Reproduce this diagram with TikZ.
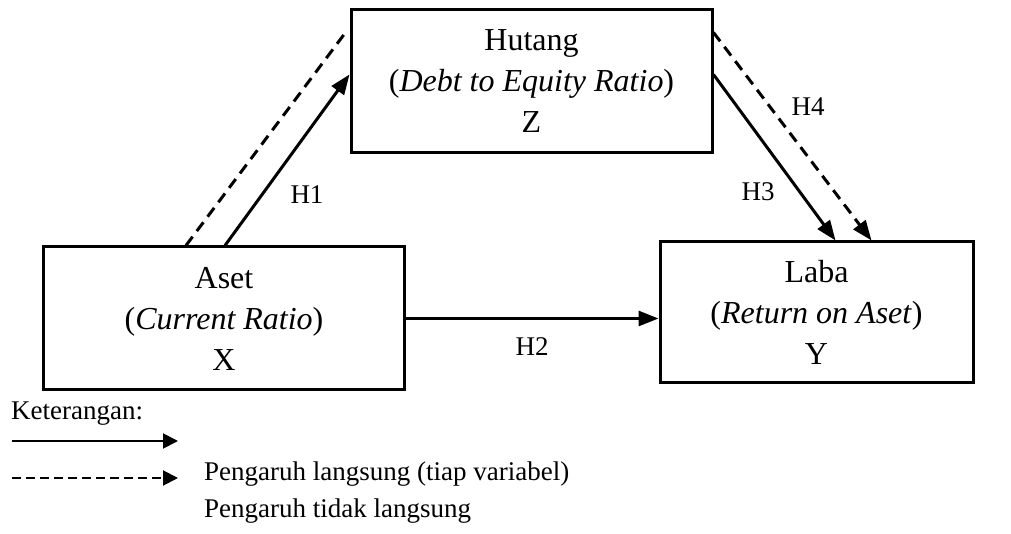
\documentclass[tikz,border=0pt]{standalone}
\usepackage{fontspec}
\setmainfont{Liberation Serif}
\usetikzlibrary{arrows.meta,calc}
\begin{document}
\begin{tikzpicture}[x=1pt,y=1pt,
  txt/.style={font=\fontsize{27pt}{33pt}\selectfont, inner sep=0pt},
  varbox/.style={draw, line width=3pt, align=center, inner sep=0pt,
    font=\fontsize{32pt}{41pt}\selectfont},
  conn/.style={line width=3pt, -{Triangle[length=20pt,width=15pt]}},
  ind/.style={line width=3pt, dash pattern=on 11pt off 7pt},
  indarrow/.style={ind, -{Triangle[length=20pt,width=15pt]}},
  legsolid/.style={line width=2pt, -{Triangle[length=15pt,width=15pt]}},
  legdash/.style={line width=2pt, dash pattern=on 9pt off 5pt, -{Triangle[length=15pt,width=15pt]}}]
\useasboundingbox (0,0) rectangle (1011,534);

% variables
\node[varbox, minimum width=361pt, minimum height=143pt] (hutang) at (531.5,452.5)
  {Hutang\\(\textit{Debt to Equity Ratio})\\Z};
\node[varbox, minimum width=361pt, minimum height=143pt] (aset) at (224,215.5)
  {Aset\\(\textit{Current Ratio})\\X};
\node[varbox, minimum width=313pt, minimum height=141pt] (laba) at (816.5,221.5)
  {Laba\\(\textit{Return on Aset})\\Y};

% direct paths
\draw[conn] ([xshift=183pt]aset.north west) -- ([yshift=-66pt]hutang.north west);
\draw[conn] (aset.east) -- (aset.east -| laba.west);
\draw[conn] ([yshift=-66pt]hutang.north east) -- ([xshift=177pt]laba.north west);

% indirect paths
\draw[ind] ([xshift=144pt]aset.north west) -- ([xshift=-4pt,yshift=-24pt]hutang.north west);
\draw[indarrow] ([yshift=-24pt]hutang.north east) -- ([xshift=213pt]laba.north west);

% path labels
\node[txt] (h1) at (307,339) {H1};
\node[txt] (h2) at (532,187) {H2};
\node[txt] (h3) at (758,342) {H3};
\node[txt] (h4) at (808,427) {H4};

% legend
\node[txt, anchor=west] (ket) at (11,120) {Keterangan:};
\coordinate (ls1) at (12,93);
\coordinate (ls2) at (178,93);
\coordinate (ld1) at (12,56);
\coordinate (ld2) at (178,56);
\draw[legsolid] (ls1) -- (ls2);
\draw[legdash] (ld1) -- (ld2);
\node[txt, anchor=west] (leg1) at (204,60) {Pengaruh langsung (tiap variabel)};
\node[txt, anchor=west] (leg2) at (204,23) {Pengaruh tidak langsung};
\end{tikzpicture}
\end{document}
